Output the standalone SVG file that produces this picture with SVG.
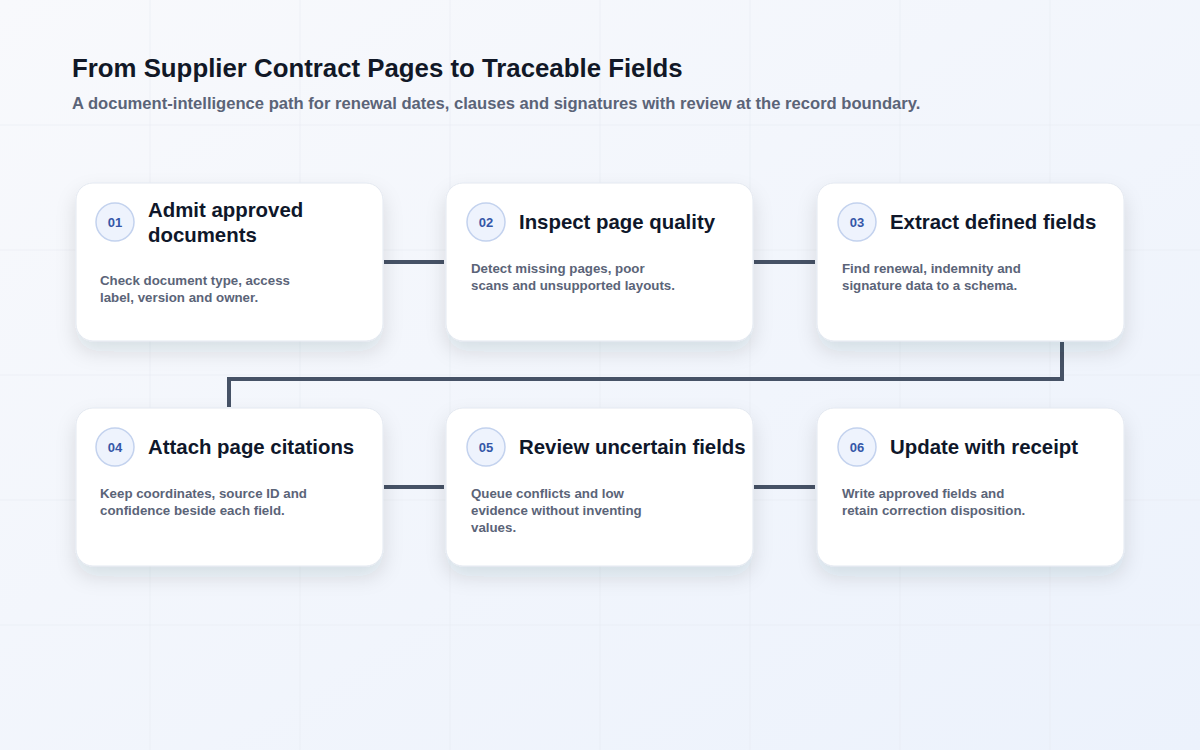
<svg xmlns="http://www.w3.org/2000/svg" width="1200" height="750" viewBox="0 0 1200 750">
  <defs>
    <linearGradient id="bg" x1="0" y1="0" x2="1" y2="1">
      <stop offset="0" stop-color="#f8f9fc"/>
      <stop offset="1" stop-color="#ecf2fc"/>
    </linearGradient>
    <filter id="shadow" x="-20%" y="-20%" width="140%" height="160%">
      <feDropShadow dx="0" dy="10" stdDeviation="10" flood-color="#1e293b" flood-opacity="0.12"/>
    </filter>
    <style>
      .grid { stroke: #e6eaf2; stroke-width: 1; opacity: 0.55; }
      .card { fill: #ffffff; stroke: #e3e8f0; stroke-width: 1; filter: url(#shadow); }
      .badge { fill: #eef3fd; stroke: #c3d2ee; stroke-width: 1.5; }
      .num { font-family: "Liberation Sans", Arial, sans-serif; font-size: 13px; font-weight: 700; fill: #3557a8; text-anchor: middle; }
      .ttl { font-family: "Liberation Sans", Arial, sans-serif; font-size: 20.4px; font-weight: 700; fill: #0f172a; }
      .desc { font-family: "Liberation Sans", Arial, sans-serif; font-size: 13.3px; font-weight: 700; fill: #5b6478; }
      .conn { fill: none; stroke: #465266; stroke-width: 4; stroke-linejoin: miter; }
    </style>
  </defs>
  <rect width="1200" height="750" fill="url(#bg)"/>
  <g id="grid">
    <line class="grid" x1="150" y1="0" x2="150" y2="750"/>
    <line class="grid" x1="300" y1="0" x2="300" y2="750"/>
    <line class="grid" x1="450" y1="0" x2="450" y2="750"/>
    <line class="grid" x1="600" y1="0" x2="600" y2="750"/>
    <line class="grid" x1="750" y1="0" x2="750" y2="750"/>
    <line class="grid" x1="900" y1="0" x2="900" y2="750"/>
    <line class="grid" x1="1050" y1="0" x2="1050" y2="750"/>
    <line class="grid" x1="0" y1="125" x2="1200" y2="125"/>
    <line class="grid" x1="0" y1="250" x2="1200" y2="250"/>
    <line class="grid" x1="0" y1="375" x2="1200" y2="375"/>
    <line class="grid" x1="0" y1="500" x2="1200" y2="500"/>
    <line class="grid" x1="0" y1="625" x2="1200" y2="625"/>
  </g>
  <g id="header">
    <text x="72" y="77" font-family="Liberation Sans, Arial, sans-serif" font-size="25.8" font-weight="700" fill="#111827">From Supplier Contract Pages to Traceable Fields</text>
    <text x="72" y="109" font-family="Liberation Sans, Arial, sans-serif" font-size="16.6" font-weight="700" fill="#5b6478">A document-intelligence path for renewal dates, clauses and signatures with review at the record boundary.</text>
  </g>
  <g id="connectors">
    <line class="conn" x1="384" y1="262" x2="444" y2="262"/>
    <line class="conn" x1="754" y1="262" x2="815" y2="262"/>
    <polyline class="conn" points="1062,342 1062,379 229,379 229,407"/>
    <line class="conn" x1="384" y1="487" x2="444" y2="487"/>
    <line class="conn" x1="754" y1="487" x2="815" y2="487"/>
  </g>
  <g id="node1">
    <rect class="card" x="76" y="183" width="307" height="158" rx="17"/>
    <circle class="badge" cx="115" cy="222" r="19"/>
    <text class="num" x="115" y="227">01</text>
    <text class="ttl" x="148" y="217">Admit approved</text>
    <text class="ttl" x="148" y="242">documents</text>
    <text class="desc" x="100" y="285">Check document type, access</text>
    <text class="desc" x="100" y="302">label, version and owner.</text>
  </g>
  <g id="node2">
    <rect class="card" x="446" y="183" width="307" height="158" rx="17"/>
    <circle class="badge" cx="486" cy="222" r="19"/>
    <text class="num" x="486" y="227">02</text>
    <text class="ttl" x="519" y="229">Inspect page quality</text>
    <text class="desc" x="471" y="273">Detect missing pages, poor</text>
    <text class="desc" x="471" y="290">scans and unsupported layouts.</text>
  </g>
  <g id="node3">
    <rect class="card" x="817" y="183" width="307" height="158" rx="17"/>
    <circle class="badge" cx="857" cy="222" r="19"/>
    <text class="num" x="857" y="227">03</text>
    <text class="ttl" x="890" y="229">Extract defined fields</text>
    <text class="desc" x="842" y="273">Find renewal, indemnity and</text>
    <text class="desc" x="842" y="290">signature data to a schema.</text>
  </g>
  <g id="node4">
    <rect class="card" x="76" y="408" width="307" height="158" rx="17"/>
    <circle class="badge" cx="115" cy="447" r="19"/>
    <text class="num" x="115" y="452">04</text>
    <text class="ttl" x="148" y="454">Attach page citations</text>
    <text class="desc" x="100" y="498">Keep coordinates, source ID and</text>
    <text class="desc" x="100" y="515">confidence beside each field.</text>
  </g>
  <g id="node5">
    <rect class="card" x="446" y="408" width="307" height="158" rx="17"/>
    <circle class="badge" cx="486" cy="447" r="19"/>
    <text class="num" x="486" y="452">05</text>
    <text class="ttl" x="519" y="454">Review uncertain fields</text>
    <text class="desc" x="471" y="498">Queue conflicts and low</text>
    <text class="desc" x="471" y="515">evidence without inventing</text>
    <text class="desc" x="471" y="532">values.</text>
  </g>
  <g id="node6">
    <rect class="card" x="817" y="408" width="307" height="158" rx="17"/>
    <circle class="badge" cx="857" cy="447" r="19"/>
    <text class="num" x="857" y="452">06</text>
    <text class="ttl" x="890" y="454">Update with receipt</text>
    <text class="desc" x="842" y="498">Write approved fields and</text>
    <text class="desc" x="842" y="515">retain correction disposition.</text>
  </g>
</svg>
